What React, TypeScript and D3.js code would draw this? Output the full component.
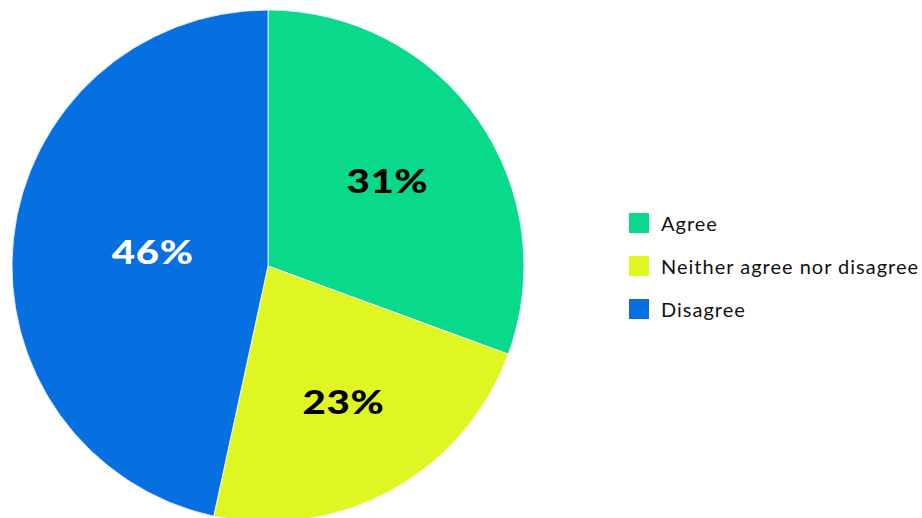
import React from "react";
import * as d3 from "d3";

const categories = ["Agree", "Neither agree nor disagree", "Disagree"];
const values = [30.6, 22.8, 46.6];
const valueLabels = ["31%", "23%", "46%"];
const colors = ["#08d98a", "#e0f622", "#0670e0"];
const labelColors = ["#000000", "#000000", "#ffffff"];

const W = 922;
const H = 518;

export default function App() {
  const cx = 268;
  const cy = 266;
  const R = 256;
  const pie = d3.pie<number>().sort(null).value((d) => d)(values);
  const arc = d3.arc<d3.PieArcDatum<number>>().innerRadius(0).outerRadius(R);
  const font = "Lato, 'Open Sans', sans-serif";

  return (
    <div style={{ position: "fixed", left: 0, top: 0, width: W, height: H, background: "#fff" }}>
      <svg width={W} height={H} style={{ display: "block" }}>
        <g transform={`translate(${cx},${cy})`}>
          {pie.map((p, i) => (
            <path key={i} d={arc(p) || ""} fill={colors[i]} stroke="#ffffff" strokeWidth={0.8} />
          ))}
          {pie.map((p, i) => {
            const theta = p.endAngle - p.startAngle;
            const mid = (p.startAngle + p.endAngle) / 2;
            const dist = (4 * R * Math.sin(theta / 2)) / (3 * theta);
            const x = dist * Math.sin(mid);
            const y = -dist * Math.cos(mid);
            return (
              <g key={i} transform={`translate(${x},${y - 2}) scale(1.22,1)`}>
                <text
                  textAnchor="middle"
                  dominantBaseline="central"
                  fill={labelColors[i]}
                  fontFamily={font}
                  fontWeight={900}
                  fontSize={33}
                  letterSpacing={0.5}
                >
                  {valueLabels[i]}
                </text>
              </g>
            );
          })}
        </g>
        <g transform="translate(629,213)">
          {categories.map((c, i) => (
            <g key={c} transform={`translate(0,${i * 43})`}>
              <rect width={20} height={20} fill={colors[i]} />
              <text
                x={32}
                y={10}
                dominantBaseline="central"
                fontFamily={font}
                fontSize={20}
                letterSpacing={1}
                fill="#111"
              >
                {c}
              </text>
            </g>
          ))}
        </g>
      </svg>
    </div>
  );
}
